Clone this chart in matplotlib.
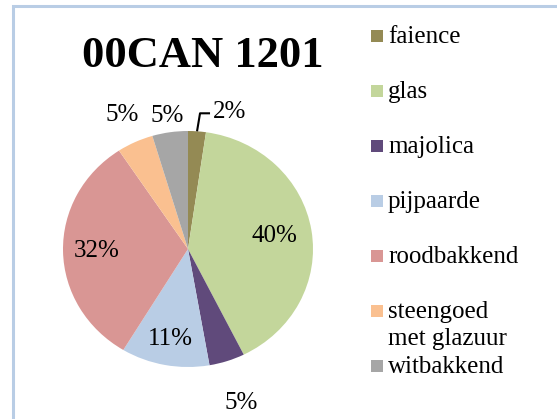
import numpy as np
import matplotlib
matplotlib.use("Agg")
import matplotlib.pyplot as plt
from matplotlib.patches import Rectangle

plt.rcParams['font.family'] = ['Liberation Serif', 'DejaVu Serif']

# data (percentages)
title = '00CAN 1201'
categories = ['faience', 'glas', 'majolica', 'pijpaarde', 'roodbakkend',
              'steengoed\nmet glazuur', 'witbakkend']
values = [2.3, 40.3, 4.6, 11.4, 32.0, 4.7, 4.6]
colors = ['#948A54', '#C3D69B', '#604A7B', '#B9CDE5', '#D99694',
          '#FAC090', '#A6A6A6']
# radial position of the percent label (excel "best fit")
label_r = [None, 0.70, 1.37, 0.78, 0.73, 1.25, 1.14]

W, H = 557, 419
fig = plt.figure(figsize=(W / 100, H / 100), dpi=100)

# pie axes: centre at (188, 249) px, radius 125 x 118 px
cx, cy, rx, ry = 188, 249, 125, 118
lim = 1.4
ax = fig.add_axes([(cx - lim * rx) / W, (H - cy - lim * ry) / H,
                   2 * lim * rx / W, 2 * lim * ry / H])
wedges, _ = ax.pie(values, colors=colors, startangle=90, counterclock=False,
                   radius=1, wedgeprops=dict(linewidth=0))
ax.set_aspect('auto')
ax.set_xlim(-lim, lim)
ax.set_ylim(-lim, lim)
ax.axis('off')

total = sum(values)
for i, (w, v) in enumerate(zip(wedges, values)):
    ang = np.deg2rad((w.theta1 + w.theta2) / 2)
    txt = '%d%%' % round(v / total * 100)
    if label_r[i] is None:
        # small slice: leader line up to the label
        x0, y0 = np.cos(ang), np.sin(ang)
        ax.plot([x0, x0 + 0.024, x0 + 0.104], [y0, 1.15, 1.15],
                color='black', lw=1.5, solid_capstyle='butt', clip_on=False)
        ax.text(x0 + 0.125, 1.16, txt, ha='left', va='center', fontsize=18)
    else:
        r = label_r[i]
        ax.text(r * np.cos(ang), r * np.sin(ang), txt, ha='center',
                va='center', fontsize=18)

fig.text(203 / W, 1 - 67 / H, title, ha='center', va='baseline',
         fontsize=32, fontweight='bold')

# legend, drawn by hand like the excel one
for i, (lab, c) in enumerate(zip(categories, colors)):
    base = 43 + 55 * i
    fig.patches.append(Rectangle((371 / W, 1 - (base - 1) / H), 12 / W, 12 / H,
                                 transform=fig.transFigure, facecolor=c,
                                 edgecolor='none'))
    lines = lab.split('\n')
    for j, ln in enumerate(lines):
        fig.text(388 / W, 1 - (base + 27 * j) / H, ln, ha='left',
                 va='baseline', fontsize=18)

# chart area border (cut off on the right and bottom)
fig.patches.append(Rectangle((13.5 / W, -0.1), 1.2, 1 - 6.5 / H + 0.1,
                             transform=fig.transFigure, fill=False,
                             edgecolor='#B9CDE5', linewidth=2.2))

fig.savefig('out.png', dpi=100)
